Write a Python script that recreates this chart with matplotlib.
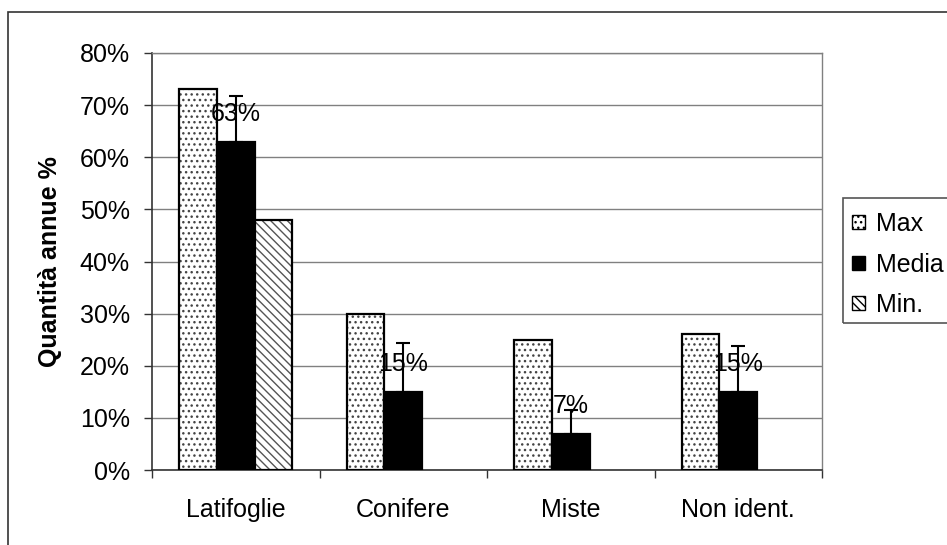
import matplotlib
matplotlib.use("Agg")
import matplotlib.pyplot as plt
from matplotlib.patches import Patch, Rectangle
import numpy as np

categories = ["Latifoglie", "Conifere", "Miste", "Non ident."]
max_vals = [73, 30, 25, 26]
media_vals = [63, 15, 7, 15]
min_vals = [48, 0, 0, 0]
media_err = [8.8, 9.4, 4.5, 8.8]
media_labels = ["63%", "15%", "7%", "15%"]
y_ticks = [0, 10, 20, 30, 40, 50, 60, 70, 80]
y_tick_labels = ["0%", "10%", "20%", "30%", "40%", "50%", "60%", "70%", "80%"]
series_names = ["Max", "Media", "Min."]

plt.rcParams["font.family"] = ["Liberation Sans", "DejaVu Sans"]
plt.rcParams["hatch.linewidth"] = 1.0
FS = 18

W, H = 947, 545
fig = plt.figure(figsize=(W / 100, H / 100), dpi=100)
ax = fig.add_axes([152 / W, 1 - 470 / H, (822 - 152) / W, (470 - 53) / H])

x = np.arange(len(categories))
bw = 0.224

def draw_bars(xpos, vals, hatch, face, hatch_col):
    # patterned fill first, then a crisp black outline on top
    ax.bar(xpos, vals, bw, color=face, hatch=hatch, edgecolor=hatch_col,
           linewidth=0, zorder=3)
    ax.bar(xpos, vals, bw, fill=False, edgecolor="black", linewidth=1.6,
           zorder=4)

draw_bars(x - bw, max_vals, "...", "white", "#444444")
ax.bar(x, media_vals, bw, color="black", edgecolor="black", linewidth=1.6,
       zorder=3)
min_x = [xi + bw for xi, v in zip(x, min_vals) if v > 0]
min_v = [v for v in min_vals if v > 0]
draw_bars(np.array(min_x), min_v, "\\\\\\\\", "white", "#555555")

ax.errorbar(x, media_vals, yerr=[np.zeros(len(x)), media_err], fmt="none",
            ecolor="black", elinewidth=1.5, capsize=5, capthick=1.5, zorder=5)

for xi, v, lab in zip(x, media_vals, media_labels):
    ax.annotate(lab, (xi, v), xytext=(0, 28), textcoords="offset pixels",
                ha="center", va="center", fontsize=FS, zorder=6)

ax.set_xlim(-0.5, len(categories) - 0.5)
ax.set_ylim(0, 80)
ax.set_yticks(y_ticks)
ax.set_yticklabels(y_tick_labels, fontsize=FS)
ax.set_xticks(x)
ax.set_xticklabels(categories, fontsize=FS)
ax.set_xticks(np.arange(-0.5, len(categories)), minor=True)
ax.tick_params(axis="x", which="major", length=0, pad=20)
ax.tick_params(axis="x", which="minor", length=6, width=1, color="#333333")
ax.tick_params(axis="y", length=6, width=1, color="#333333", pad=10)

ax.yaxis.grid(True, color="#808080", linewidth=1, zorder=0)
ax.set_axisbelow(True)
for side in ["top", "right"]:
    ax.spines[side].set_color("#808080")
    ax.spines[side].set_linewidth(1)
for side in ["left", "bottom"]:
    ax.spines[side].set_color("#333333")
    ax.spines[side].set_linewidth(1.2)

ax.set_ylabel("Quantità annue %", fontsize=FS, fontweight="bold", labelpad=13)

handles = [
    Patch(facecolor="white", edgecolor="black", hatch="...", linewidth=1),
    Patch(facecolor="black", edgecolor="black", linewidth=1),
    Patch(facecolor="white", edgecolor="black", hatch="\\\\\\\\", linewidth=1),
]
leg = fig.legend(handles, series_names, loc="upper left",
                 bbox_to_anchor=(838 / W, 1 - 198 / H), fontsize=FS,
                 frameon=False,
                 handlelength=0.5, handleheight=0.5, handletextpad=0.45,
                 labelspacing=0.66, borderpad=0.56, borderaxespad=0)

# legend box
fig.patches.append(Rectangle((843 / W, 1 - 323 / H), 0.3, 125 / H,
                             transform=fig.transFigure, fill=False,
                             edgecolor="#555555", linewidth=1.2))

# chart area border
fig.patches.append(Rectangle((7.5 / W, -0.1), 1.2, 1 - 11.5 / H + 0.1,
                             transform=fig.transFigure, fill=False,
                             edgecolor="#333333", linewidth=1.2))

fig.savefig("out.png", dpi=100)
